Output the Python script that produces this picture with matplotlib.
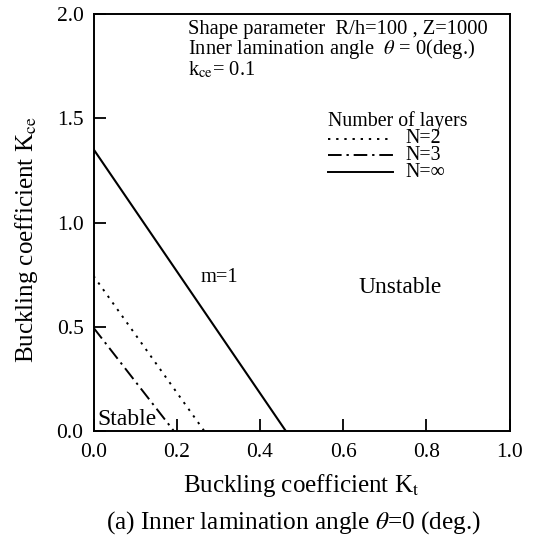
import matplotlib
matplotlib.use("Agg")
import matplotlib.pyplot as plt
from matplotlib.lines import Line2D

plt.rcParams['font.family'] = ['Liberation Serif', 'DejaVu Serif']
plt.rcParams['mathtext.fontset'] = 'stix'

# Stability boundaries: (K_t, K_ce) end points of each straight boundary
kt_n2 = [0.0, 0.267]
kce_n2 = [0.745, 0.0]
kt_n3 = [0.0, 0.194]
kce_n3 = [0.497, 0.0]
kt_inf = [0.0, 0.463]
kce_inf = [1.352, 0.0]

xticks = [0.0, 0.2, 0.4, 0.6, 0.8, 1.0]
yticks = [0.0, 0.5, 1.0, 1.5, 2.0]

legend_labels = ["N=2", "N=3", "N=\u221e"]
legend_rows_y = [1.402, 1.323, 1.244]

fig = plt.figure(figsize=(5.35, 5.35), dpi=100)
ax = fig.add_axes([0.1748, 0.1935, 0.7776, 0.7805])

ls_n2 = (0, (1.2, 3.0))
ls_n3 = (0, (7, 2.5, 1.2, 2.5))
styles = [ls_n2, ls_n3, '-']

ax.plot(kt_n2, kce_n2, color='black', lw=1.4, linestyle=ls_n2)
ax.plot(kt_n3, kce_n3, color='black', lw=1.4, linestyle=ls_n3)
ax.plot(kt_inf, kce_inf, color='black', lw=1.5, linestyle='-')

ax.set_xlim(0, 1.0)
ax.set_ylim(0, 2.0)
ax.set_xticks(xticks)
ax.set_yticks(yticks)
ax.set_xticklabels([f"{v:.1f}" for v in xticks])
ax.set_yticklabels([f"{v:.1f}" for v in yticks])
ax.tick_params(direction='in', length=8.6, width=1.3, labelsize=15.5,
               top=False, right=False)
ax.tick_params(axis='x', pad=8.3)
ax.tick_params(axis='y', pad=7.2)
for s in ax.spines.values():
    s.set_linewidth(1.4)

ax.set_xlabel(r"Buckling coefficient K$_{\rm t}$", fontsize=18)
ax.set_ylabel(r"Buckling coefficient K$_{\rm ce}$", fontsize=18)
ax.xaxis.label.set_va('center')
ax.yaxis.label.set_va('center')
ax.xaxis.set_label_coords(0.5, -0.1305)
ax.yaxis.set_label_coords(-0.162, 0.46)

header = ("Shape parameter  R/h=100 , Z=1000\n"
          r"Inner lamination angle  $\theta$ = 0(deg.)" "\n"
          r"k$_{\rm ce}$= 0.1")
ax.text(0.227, 1.826, header, fontsize=14.8, va='center', ha='left',
        linespacing=0.92)

ax.text(0.564, 1.485, "Number of layers", fontsize=14.3, va='center')
for ls, yy in zip(styles, legend_rows_y):
    ax.add_line(Line2D([0.564, 0.72], [yy, yy], color='black', lw=1.4, linestyle=ls))
ax.text(0.75, legend_rows_y[1], "\n".join(legend_labels), fontsize=14.3,
        va='center', ha='left', linespacing=0.85)

ax.text(0.303, 0.736, "m=1", fontsize=14.8, ha='center', va='center')
ax.text(0.737, 0.688, "Unstable", fontsize=16.8, ha='center', va='center')
ax.text(0.081, 0.057, "Stable", fontsize=17, ha='center', va='center')

fig.text(0.549, 0.024, r"(a) Inner lamination angle $\theta$=0 (deg.)", fontsize=18.2,
         ha='center', va='center')

fig.savefig("out.png", dpi=100)
